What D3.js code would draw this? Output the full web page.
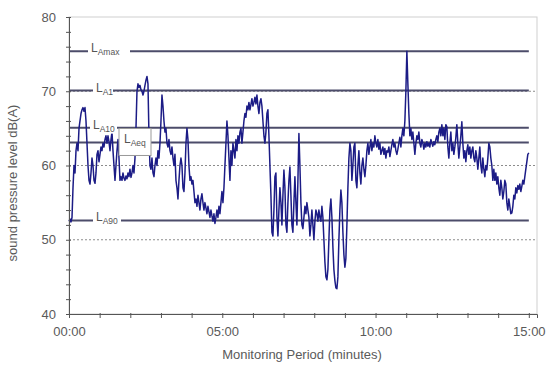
<!DOCTYPE html>
<html>
<head>
<meta charset="utf-8">
<script src="https://cdn.jsdelivr.net/npm/d3@7.9.0/dist/d3.min.js"></script>
<style>
  body { margin: 0; background: #fff; }
  svg { font-family: Arial, "Liberation Sans", sans-serif; }
</style>
</head>
<body>
<svg id="chart" width="547" height="365"></svg>
<script>
// logger readings, dB(A), evenly spaced from 00:00 to 15:00
const levels = [
  52.5, 52.8, 52.4, 53, 57, 60, 59, 62, 63, 62,
  65, 66, 67, 67.5, 67.8, 67.3, 67.8, 66, 63, 60,
  58, 57.5, 59, 61, 60, 58, 57.6, 59, 61.5, 62,
  60.5, 61.5, 62.5, 62, 63, 62.5, 63.5, 64, 63, 64,
  63.2, 62, 63.5, 64.5, 62, 60, 58, 60, 62, 63.5,
  61, 58, 58.5, 58, 59, 58.3, 58, 58.6, 58.2, 59,
  58.5, 59.5, 58.4, 59, 60, 59, 61, 65, 70, 71,
  70.5, 70.8, 70.2, 70, 69.5, 70, 70.8, 71.5, 72, 71,
  64, 60, 59.5, 61, 59, 58.5, 60, 61, 60, 62,
  61, 63, 66, 69.5, 68, 66, 64.5, 65, 63, 62.5,
  63.5, 62, 61.5, 62.5, 61, 60, 61.5, 58, 57, 55.5,
  58, 60, 61, 60, 57, 56.5, 59, 63, 65, 63.5,
  60, 58, 58.5, 57.5, 58, 56.5, 55, 55.5, 54.5, 56,
  55, 54, 55.5, 56.2, 55, 54, 55, 54.3, 53.5, 54.5,
  53.8, 53, 54, 53.2, 52.5, 53.5, 52.2, 53, 54, 53,
  54.5, 53.5, 55, 56.5, 55, 57, 60, 63, 66, 64,
  61, 58, 62, 60, 63, 62, 61, 63.5, 62, 64,
  63, 64.5, 65, 63, 64.5, 66, 67, 66.5, 68, 67.5,
  68.5, 67.5, 68.2, 69, 68, 68.5, 69.2, 68.3, 69.5, 68,
  67, 68.5, 69, 68, 66, 64, 63, 64.5, 67, 67.5,
  64, 60, 56, 51, 50.5, 54, 58.5, 59, 53, 50.5,
  54, 57, 55, 52, 56, 59.4, 57, 52, 51, 55,
  58, 59.8, 56, 52, 51, 55, 58.5, 55, 52, 58,
  64.3, 60, 55, 52, 51.5, 53, 54.5, 53.5, 55, 54,
  53, 50.5, 52, 54, 52, 50, 52.5, 54, 53.5, 52.5,
  54, 53, 52.5, 54.5, 53, 50, 47, 45, 44.6, 46,
  50, 54, 55.5, 53, 49, 46, 44.5, 43.5, 43.4, 45,
  50, 54, 56.7, 55, 51, 48, 46.3, 47.5, 52, 57,
  61, 63, 62, 58, 60, 62.5, 63, 58, 57, 60,
  62, 59, 57.5, 60, 61, 59.5, 58.5, 60, 62, 63,
  61.5, 62.5, 63.5, 62, 63, 62.5, 64, 63, 62.5, 63.5,
  62.2, 63, 61.5, 62, 62.5, 61.5, 62.3, 61, 62, 61.8,
  62.5, 61.2, 62, 62.8, 63.5, 62.5, 63, 62, 61.5, 62.2,
  63, 63.8, 62.5, 64, 65, 64, 66, 70, 75.4, 71,
  67, 64, 65, 63.5, 64.5, 63, 61.5, 63, 64, 63.5,
  64.5, 63, 62.5, 63.5, 63, 62.2, 63, 62.5, 63.2, 62.6,
  63, 62.5, 63.5, 63, 62.6, 63.2, 62.8, 63.5, 64, 63.2,
  64.5, 65, 64, 65.5, 64, 65, 63.5, 65.5, 65.2, 62.5,
  61, 63, 64.5, 62, 63, 61.5, 62.5, 63.8, 65.5, 63,
  61, 62.5, 64, 65.9, 63, 61, 62, 60.5, 62, 62.8,
  61.5, 62.5, 61, 62, 62.5, 61, 60.5, 62, 61, 59.5,
  61, 62.5, 60, 59, 61, 59.5, 58.5, 60, 59.4, 61,
  63, 62.5, 61, 60, 58, 59.5, 58, 59, 57.5, 58.5,
  57, 56, 58, 57, 55.5, 56.5, 58, 57.5, 55, 54,
  55.5, 54.5, 53.5, 53.6, 54.5, 56, 55.5, 57, 56.3, 57.3,
  56.8, 57.5, 56.5, 57.2, 58, 57.5, 58.5, 59.5, 60.5, 61.5,
  61.7
];
const periodSeconds = 900;

// statistical levels drawn as horizontal lines
const refNames = ['Amax', 'A1', 'A10', 'Aeq', 'A90'];
const refValues = [75.4, 70.1, 65.1, 63.1, 52.6];

const gridLevels = [50, 60, 70];
const yLabelTicks = [40, 50, 60, 70, 80];
const xLabelSeconds = [0, 300, 600, 900];
const xLabelText = ['00:00', '05:00', '10:00', '15:00'];

// label boxes (px), in the same order as refNames
const labelBoxes = [
  { x0: 88, x1: 130, boxed: false },
  { x0: 93, x1: 113, boxed: false },
  { x0: 90, x1: 117, boxed: false },
  { x0: 119, x1: 151, boxed: true },
  { x0: 93, x1: 121, boxed: false }
];

const svg = d3.select('#chart');
const x = d3.scaleLinear().domain([0, 916]).range([69, 537]);
const y = d3.scaleLinear().domain([40, 80]).range([314, 17]);
const times = levels.map((_, i) => i * periodSeconds / (levels.length - 1));

// plot frame
svg.append('rect')
  .attr('x', 69).attr('y', 17)
  .attr('width', 468).attr('height', 297)
  .attr('fill', 'none')
  .attr('stroke', '#cfcfcf');

// dotted gridlines
svg.selectAll('.grid')
  .data(gridLevels)
  .enter()
  .append('line')
  .attr('x1', x(0)).attr('x2', x(916))
  .attr('y1', d => y(d)).attr('y2', d => y(d))
  .attr('stroke', '#8c8c8c')
  .attr('stroke-dasharray', '2,2');

// reference level lines
svg.selectAll('.ref')
  .data(refValues)
  .enter()
  .append('line')
  .attr('x1', x(0)).attr('x2', x(periodSeconds))
  .attr('y1', d => y(d)).attr('y2', d => y(d))
  .attr('stroke', '#4c4c6a')
  .attr('stroke-width', 2);

// measured level trace
const line = d3.line()
  .x((d, i) => x(times[i]))
  .y(d => y(d));
svg.append('path')
  .datum(levels)
  .attr('d', line)
  .attr('fill', 'none')
  .attr('stroke', '#1c1c86')
  .attr('stroke-width', 1.5)
  .attr('stroke-linejoin', 'round');

// labels on top of lines
refValues.forEach((v, i) => {
  const b = labelBoxes[i];
  const ly = y(v);
  if (b.boxed) {
    svg.append('rect')
      .attr('x', b.x0).attr('y', ly - 14)
      .attr('width', b.x1 - b.x0).attr('height', 27)
      .attr('fill', '#fff')
      .attr('stroke', '#999');
  } else {
    svg.append('rect')
      .attr('x', b.x0).attr('y', ly - 9)
      .attr('width', b.x1 - b.x0).attr('height', 15)
      .attr('fill', '#fff');
  }
  const t = svg.append('text')
    .attr('x', b.x0 + (b.boxed ? 5 : 3))
    .attr('y', ly + 1)
    .attr('fill', '#555')
    .attr('font-size', 12)
    .text('L');
  t.append('tspan')
    .attr('dy', 3)
    .attr('font-size', 8.5)
    .text(refNames[i]);
});

// y axis
const yAxis = d3.axisLeft(y)
  .tickValues(d3.range(40, 81, 2))
  .tickFormat(d => yLabelTicks.includes(d) ? d : '')
  .tickSize(3)
  .tickPadding(10);
const gy = svg.append('g')
  .attr('transform', 'translate(69,0)')
  .call(yAxis);
gy.selectAll('line').attr('x1', 2).attr('stroke', '#555');
gy.select('.domain').attr('stroke', '#555');
gy.selectAll('text').attr('font-size', 13).attr('fill', '#5a5a5a');

// x axis, tick every minute
const xAxis = d3.axisBottom(x)
  .tickValues(d3.range(0, 901, 60))
  .tickFormat(d => {
    const k = xLabelSeconds.indexOf(d);
    return k >= 0 ? xLabelText[k] : '';
  })
  .tickSize(4)
  .tickPadding(9);
const gx = svg.append('g')
  .attr('transform', 'translate(0,314)')
  .call(xAxis);
gx.selectAll('line').attr('y1', -1).attr('stroke', '#555');
gx.select('.domain').attr('stroke', '#555');
gx.selectAll('text').attr('font-size', 13).attr('fill', '#5a5a5a');

// axis titles
svg.append('text')
  .attr('x', 302).attr('y', 359)
  .attr('text-anchor', 'middle')
  .attr('font-size', 13)
  .attr('fill', '#5a5a5a')
  .text('Monitoring Period (minutes)');
svg.append('text')
  .attr('transform', 'translate(17,183) rotate(-90)')
  .attr('text-anchor', 'middle')
  .attr('font-size', 13)
  .attr('fill', '#5a5a5a')
  .text('sound pressure level dB(A)');
</script>
</body>
</html>
